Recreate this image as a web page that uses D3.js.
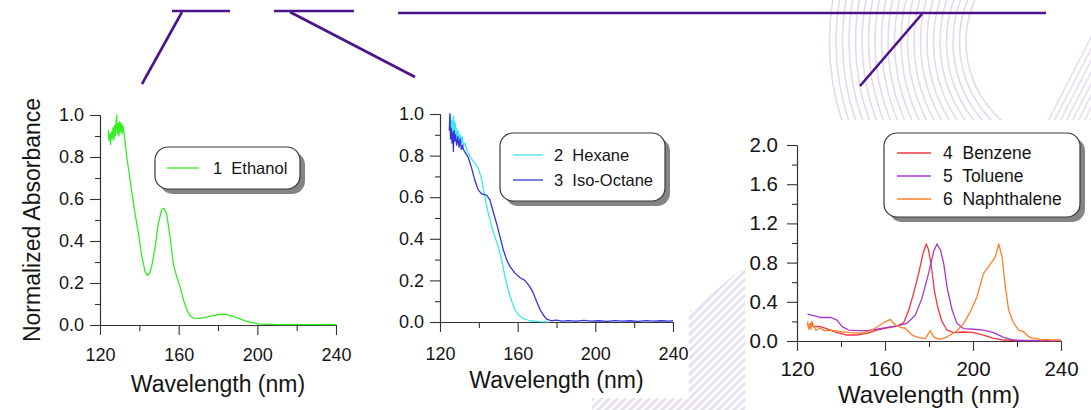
<!DOCTYPE html>
<html>
<head>
<meta charset="utf-8">
<script src="https://cdn.jsdelivr.net/npm/d3@7"></script>
<style>
  body { margin: 0; background: #fff; }
  svg { display: block; font-family: "Liberation Sans", Arial, sans-serif; }
</style>
</head>
<body>
<script>
// ---- data: [wavelength nm, normalized absorbance] ----
var ethanol = [
  [124.2,0.93],[124.6,0.88],[125.0,0.91],[125.4,0.86],[125.8,0.92],[126.2,0.89],[126.6,0.94],
  [127.0,0.88],[127.4,0.95],[127.8,0.90],[128.2,0.97],[128.5,1.00],[128.8,0.91],[129.2,0.96],
  [129.6,0.90],[130.0,0.97],[130.4,0.92],[130.8,0.96],[131.2,0.91],[131.6,0.95],[132.0,0.93],
  [132.7,0.88],[133.6,0.80],[134.4,0.75],[136.1,0.64],[137.8,0.53],[139.5,0.44],[141.2,0.33],
  [142.9,0.255],[144.2,0.235],[145.2,0.245],[146.3,0.28],[148.0,0.37],[149.7,0.485],[151.4,0.55],
  [152.5,0.556],[153.9,0.53],[155.6,0.42],[157.3,0.29],[159.0,0.23],[160.7,0.184],[162.4,0.12],
  [164.1,0.073],[165.8,0.044],[167.5,0.033],[170.8,0.032],[174.2,0.038],[177.6,0.046],[181.0,0.05],
  [184.4,0.049],[187.8,0.041],[191.2,0.029],[194.6,0.017],[198.0,0.01],[201.4,0.004],[206,0.003],
  [212,0.002],[218,0.003],[224,0.002],[230,0.002],[236,0.003],[240,0.002]
];
var hexane = [
  [125.1,0.95],[125.4,1.00],[125.8,0.90],[126.2,0.97],[126.6,0.88],[127.0,0.99],[127.4,0.90],
  [127.8,0.96],[128.2,0.89],[128.6,0.93],[129.0,0.88],[129.5,0.92],[130.0,0.87],[130.5,0.90],
  [131.0,0.86],[131.5,0.89],[132.0,0.85],[132.8,0.86],[133.7,0.83],[135.4,0.795],[138.0,0.763],
  [139.7,0.74],[141.4,0.69],[143.1,0.60],[144.9,0.52],[146.6,0.46],[148.3,0.41],[150.0,0.363],
  [151.7,0.30],[153.4,0.22],[155.1,0.155],[156.9,0.10],[158.6,0.06],[160.3,0.035],[162.9,0.016],
  [166.3,0.006],[171.4,0.002],[176,0.001]
];
var isoOctane = [
  [124.8,0.92],[125.1,1.00],[125.4,0.88],[125.8,0.93],[126.2,0.86],[126.6,0.91],[126.9,0.82],
  [127.2,0.92],[127.6,0.87],[128.0,0.90],[128.6,0.85],[129.2,0.89],[129.8,0.84],[130.4,0.88],
  [131.0,0.83],[131.6,0.85],[132.0,0.83],[134.6,0.79],[136.3,0.74],[138.0,0.68],[139.7,0.635],
  [141.4,0.616],[144.0,0.61],[145.7,0.587],[147.4,0.53],[149.1,0.475],[150.9,0.41],[152.6,0.347],
  [154.3,0.30],[156.0,0.267],[158.6,0.235],[161.1,0.214],[163.7,0.20],[166.3,0.17],[168.0,0.14],
  [169.7,0.10],[171.4,0.062],[173.1,0.035],[174.9,0.014],[177.4,0.006],[180,0.009],[183,0.004],
  [186,0.007],[190,0.004],[194,0.008],[198,0.004],[202,0.006],[206,0.003],[210,0.007],[214,0.004],
  [218,0.006],[222,0.003],[226,0.007],[230,0.004],[234,0.006],[238,0.004],[240,0.006]
];
var benzene = [
  [124.8,0.17],[125.5,0.14],[126.3,0.18],[127.6,0.146],[130.0,0.15],[132.1,0.136],[135.2,0.112],
  [138.2,0.085],[142.7,0.061],[147.3,0.061],[151.8,0.078],[156.4,0.112],[160.9,0.133],[165.5,0.153],
  [168.5,0.187],[170.8,0.316],[173.0,0.486],[175.3,0.69],[177.3,0.895],[178.8,0.99],[179.8,0.93],
  [181.1,0.76],[182.4,0.52],[183.9,0.35],[185.9,0.197],[188.2,0.112],[191.2,0.085],[195.8,0.092],
  [200.3,0.085],[204.8,0.061],[209.4,0.027],[213.9,0.01],[220,0.003],[226,0.006],[232,0.003],[240,0.005]
];
var toluene = [
  [124.8,0.275],[127.6,0.26],[130.6,0.24],[135.2,0.24],[138.2,0.214],[140.5,0.146],[143.5,0.112],
  [147.3,0.105],[151.8,0.105],[156.4,0.122],[160.9,0.14],[165.5,0.153],[170.0,0.18],[173.8,0.265],
  [176.8,0.435],[179.8,0.69],[182.1,0.91],[183.6,0.99],[185.2,0.93],[186.7,0.79],[188.2,0.55],
  [190.5,0.316],[192.7,0.18],[195.8,0.126],[200.3,0.12],[204.8,0.112],[209.4,0.085],[213.9,0.037],
  [218.5,0.01],[226,0.003],[240,0.003]
];
var naphthalene = [
  [124.8,0.20],[125.3,0.12],[125.8,0.17],[126.3,0.12],[126.8,0.20],[127.6,0.15],[128.6,0.11],
  [130.6,0.13],[132.5,0.105],[135.2,0.11],[139.7,0.095],[144.2,0.085],[148.8,0.078],[153.3,0.105],
  [157.1,0.153],[160.2,0.197],[162.4,0.22],[164.7,0.163],[167.0,0.14],[169.2,0.13],[172.3,0.061],
  [175.3,0.034],[178.3,0.024],[180.6,0.105],[182.1,0.044],[184.4,0.017],[186.7,0.027],[189.7,0.061],
  [192.7,0.105],[195.8,0.18],[198.8,0.30],[201.8,0.45],[204.8,0.69],[207.9,0.785],[210.2,0.86],
  [211.7,0.99],[213.2,0.86],[214.7,0.554],[216.2,0.316],[218.5,0.18],[220.8,0.112],[223.0,0.095],
  [225.3,0.044],[227.0,0.03],[229.1,0.027],[231.0,0.012],[233.6,0.017],[236.0,0.008],[239.7,0.01]
];

var xTicks = [120, 160, 200, 240];
var xMinorTicks = [140, 180, 220];
var yTicksUnit = [0, 0.2, 0.4, 0.6, 0.8, 1.0];
var yMinorUnit = [0.1, 0.3, 0.5, 0.7, 0.9];
var yTicksTwo = [0, 0.4, 0.8, 1.2, 1.6, 2.0];
var yMinorTwo = [0.2, 0.6, 1.0, 1.4, 1.8];

var W = 1091, H = 410;
var svg = d3.select("body").append("svg").attr("width", W).attr("height", H);

// ---- faint background decoration ----
var defs = svg.append("defs");
defs.append("clipPath").attr("id", "waveClip").append("rect")
  .attr("x", 824).attr("y", 0).attr("width", 267).attr("height", 120);
defs.append("clipPath").attr("id", "stripeClip").append("path")
  .attr("d", "M689,312 L745,266 L745,410 L592,410 L592,398 L689,398 Z");

var waves = svg.append("g").attr("clip-path", "url(#waveClip)")
  .attr("fill", "none").attr("stroke", "#e4daee").attr("stroke-width", 1.6);
d3.range(0, 22).forEach(function(i) {
  var rx = 96 + i * 6.5;
  waves.append("ellipse").attr("cx", 1062).attr("cy", 42).attr("rx", rx).attr("ry", rx * 1.05);
});
var diag = svg.append("g").attr("clip-path", "url(#waveClip)")
  .attr("stroke", "#e6deef").attr("stroke-width", 1.6);
d3.range(0, 8).forEach(function(i) {
  diag.append("line").attr("x1", 1046 + i * 6).attr("y1", 125).attr("x2", 1100 + i * 6).attr("y2", 20);
});

var stripes = svg.append("g").attr("clip-path", "url(#stripeClip)")
  .attr("stroke", "#e7e0f0").attr("stroke-width", 3);
d3.range(0, 40).forEach(function(i) {
  var x = 540 + i * 8;
  stripes.append("line").attr("x1", x).attr("y1", 420).attr("x2", x + 200).attr("y2", 220);
});

// ---- leader lines at the top ----
var leader = svg.append("g").attr("stroke", "#4b1289").attr("stroke-width", 2.6).attr("fill", "none");
[
  [[172, 11], [230, 11]], [[182, 12], [142, 84]],
  [[274, 11], [354, 11]], [[290, 12], [415, 77]],
  [[398, 13], [1046, 13]], [[922, 14], [860, 86]]
].forEach(function(s) { leader.append("path").attr("d", d3.line()(s)); });

// ---- panels ----
function drawPanel(p) {
  var x = d3.scaleLinear().domain([120, 240]).range([p.left, p.right]);
  var y = d3.scaleLinear().domain(p.yDomain).range([p.bottom, p.top]);
  var g = svg.append("g");

  var ya = g.append("g").attr("transform", "translate(" + p.left + ",0)")
    .call(d3.axisLeft(y).tickValues(p.yTicks).tickSize(10).tickSizeOuter(0)
      .tickPadding(p.yPad).tickFormat(d3.format(".1f")));
  g.append("g").attr("transform", "translate(" + p.left + ",0)")
    .call(d3.axisLeft(y).tickValues(p.yMinor).tickSize(5).tickSizeOuter(0).tickFormat(""));
  var xa = g.append("g").attr("transform", "translate(0," + p.bottom + ")")
    .call(d3.axisBottom(x).tickValues(xTicks).tickSize(10).tickSizeOuter(0).tickPadding(p.xPad));
  g.append("g").attr("transform", "translate(0," + p.bottom + ")")
    .call(d3.axisBottom(x).tickValues(xMinorTicks).tickSize(6).tickSizeOuter(0).tickFormat(""));
  g.selectAll(".domain, .tick line").attr("stroke", "#333").attr("stroke-width", 1.1);
  ya.selectAll("text").attr("font-size", p.tickFont).attr("fill", "#151515")
    .attr("font-family", "Liberation Sans, Arial, sans-serif");
  xa.selectAll("text").attr("font-size", p.tickFont).attr("fill", "#151515")
    .attr("font-family", "Liberation Sans, Arial, sans-serif");

  g.append("text").attr("x", (p.left + p.right) / 2).attr("y", p.titleY)
    .attr("text-anchor", "middle").attr("font-size", p.titleFont).attr("fill", "#151515")
    .text("Wavelength (nm)");

  var line = d3.line().x(function(d) { return x(d[0]); }).y(function(d) { return y(d[1]); });
  p.series.forEach(function(s) {
    g.append("path").datum(s.data).attr("d", line)
      .attr("fill", "none").attr("stroke", s.color).attr("stroke-width", 1.3)
      .attr("stroke-linejoin", "round");
  });

  // legend box with drop shadow
  var L = p.legend;
  g.append("rect").attr("x", L.x + 5).attr("y", L.y + 5).attr("width", L.w).attr("height", L.h)
    .attr("rx", 13).attr("fill", "#6f6f6f").attr("opacity", 0.85);
  g.append("rect").attr("x", L.x).attr("y", L.y).attr("width", L.w).attr("height", L.h)
    .attr("rx", 13).attr("fill", "#fff").attr("stroke", "#3a3a3a").attr("stroke-width", 1.2);
  p.series.forEach(function(s, i) {
    var ly = L.rowY[i];
    g.append("line").attr("x1", L.x1).attr("x2", L.x2).attr("y1", ly).attr("y2", ly)
      .attr("stroke", s.color).attr("stroke-width", 1.3);
    g.append("text").attr("x", L.tx).attr("y", ly + L.font * 0.36)
      .attr("font-size", L.font).attr("fill", "#151515").style("white-space", "pre")
      .text(s.label);
  });
}

drawPanel({
  left: 100, right: 336, top: 115, bottom: 325, yDomain: [0, 1],
  yTicks: yTicksUnit, yMinor: yMinorUnit, yPad: 6, xPad: 13, tickFont: 18,
  titleY: 392, titleFont: 23,
  series: [{data: ethanol, color: "#33ee22", label: "1  Ethanol"}],
  legend: {x: 155, y: 147, w: 145, h: 42, x1: 167, x2: 199, tx: 213, rowY: [168], font: 16.5}
});
drawPanel({
  left: 440, right: 673, top: 114, bottom: 322, yDomain: [0, 1],
  yTicks: yTicksUnit, yMinor: yMinorUnit, yPad: 6, xPad: 15, tickFont: 18,
  titleY: 388, titleFont: 23,
  series: [
    {data: hexane, color: "#3ee8e8", label: "2  Hexane"},
    {data: isoOctane, color: "#3434dd", label: "3  Iso-Octane"}
  ],
  legend: {x: 500, y: 133, w: 165, h: 68, x1: 513, x2: 543, tx: 554, rowY: [155, 180], font: 16.5}
});
drawPanel({
  left: 797, right: 1061, top: 145, bottom: 341, yDomain: [0, 2],
  yTicks: yTicksTwo, yMinor: yMinorTwo, yPad: 9, xPad: 10, tickFont: 20.5,
  titleY: 403, titleFont: 24,
  series: [
    {data: benzene, color: "#f2353f", label: "4  Benzene"},
    {data: toluene, color: "#a43ad0", label: "5  Toluene"},
    {data: naphthalene, color: "#ff7f2a", label: "6  Naphthalene"}
  ],
  legend: {x: 884, y: 133, w: 196, h: 84, x1: 897, x2: 931, tx: 943, rowY: [153, 176, 199], font: 17.5}
});

// y axis title (left panel only)
svg.append("text").attr("transform", "translate(40,220) rotate(-90)")
  .attr("text-anchor", "middle").attr("font-size", 23).attr("fill", "#151515")
  .text("Normalized Absorbance");
</script>
</body>
</html>
